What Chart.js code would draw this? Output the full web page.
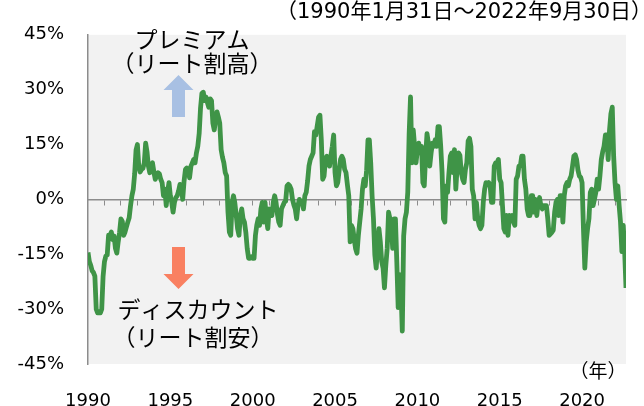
<!DOCTYPE html>
<html>
<head>
<meta charset="utf-8">
<script src="https://cdn.jsdelivr.net/npm/chart.js@4"></script>
<style>
  body { margin: 0; background: #fff; }
  canvas { display: block; }
</style>
</head>
<body>
<canvas id="chart" width="644" height="406"></canvas>
<script>
// monthly premium / discount of J-REIT prices vs NAV, Jan 1990 .. Sep 2022 (%)
const startYear = 1990;
const premium = [
  -14.5, -17, -18, -19.5, -20, -21, -30, -31, -31, -31, -30, -21,        // 1990
  -17, -15.5, -15.2, -9.8, -10, -8.9, -11, -10, -13.4, -14.7, -11.6, -9, // 1991
  -5.3, -6, -9.8, -8.9, -7.5, -6.2, -5, -1.7, 1, 2.8, 7, 13.5,           // 1992
  15, 9, 7.5, 8.2, 8.5, 10, 15.4, 13, 9.1, 7.3, 9, 10,                   // 1993
  7.5, 5.5, 6.4, 7.3, 7, 5.5, 4.6, 1, 2.8, -1.7, 2, 4.6,                 // 1994
  1, -0.8, -3.5, -0.8, 0.5, 1, 2.3, 4.1, 3.7, 0, 5, 8.2,                 // 1995
  8.6, 8.2, 5.9, 9.1, 10, 10.9, 10, 12.7, 14.5, 18, 25, 29,              // 1996
  29.3, 27, 28, 26.5, 25.2, 27.5, 27, 20.8, 19, 22, 23.9, 22.5,          // 1997
  20.8, 13.6, 11.5, 10, 7.3, 6.4, -3.5, -8.9, -9.8, -0.8, 1, -1,         // 1998
  -4.4, -8, -9.8, -4.4, -2.6, -5.3, -6.2, -9, -13.4, -16.1, -16.1, -15.7, // 1999
  -16.1, -16.1, -9.8, -7, -5.3, -7.1, -2.6, -0.8, -6.2, -0.8, -5.3, -8,  // 2000
  -2.6, -3.5, -4.4, -0.8, 1, -0.8, -4, -6.2, -7.1, -2.6, -1.7, -0.8,     // 2001
  -0.5, 3.7, 4.1, 3.7, 2.8, 0, -1.5, -2.6, -5.3, -1.7, 0, -0.5,          // 2002
  -0.8, -2.6, 1, 1.9, 5, 9.1, 10.9, 11.8, 12.7, 18.5, 17.6, 20,          // 2003
  22.5, 23, 16.3, 5.5, 6.4, 10.9, 11.8, 10, 9.1, 12, 14.5, 17.6,         // 2004
  7.3, 3.7, 4.6, 8, 10.9, 11.8, 10.9, 8.2, 7.3, 4, 1, -11.6,             // 2005
  -7.1, -8, -11, -13.5, -14.7, -9.8, -6.2, -2.6, 2.8, 5.5, 3.7, 8,       // 2006
  16.3, 16.3, 10, 1, -5.3, -15.2, -18.8, -12.5, -8, -11.6, -17, -18.8,   // 2007
  -24.2, -18, -13.4, -3.5, -5.3, -7, -13.4, -5.3, -5.3, -17, -29.6, -20.6, // 2008
  -24, -36, -10, -5.3, -3.5, 2, 18, 28, 10, 19, 14.5, 10,                // 2009
  13.6, 15.4, 12.7, 14.5, 4.6, 3.7, 11.8, 18, 15.4, 9.1, 12.7, 15.4,     // 2010
  14.5, 16.3, 14.5, 19.9, 19.9, 14.5, 7.3, -5.3, -6.2, 3.7, 1.9, 7.3,    // 2011
  11.8, 12.7, 7.3, 13.6, 2.8, 9.1, 12.7, 12, 7.3, 5.5, 4.6, 8.2,         // 2012
  10, 16, 16.7, 14.5, 2.8, 1, -5.3, -0.8, -5.3, -7.1, -8, -7.1,          // 2013
  -0.8, 2.8, 4.6, 4, 4.6, 3.7, -0.8, -0.8, 9.1, 10, 10, 10.9,            // 2014
  5.5, 4.6, -1.7, -8, -8.9, -4.4, -9.8, -4.4, -5.3, -4.4, -6.2, -7.1,    // 2015
  5.5, 6.4, 9.1, 9.1, 11.8, 11.8, 5.5, 2.8, -2.6, -4.4, -4.4, 1,         // 2016
  1, -3.5, 0, -4.4, -0.8, 0.5, -1.7, -2.6, -1.7, -1.7, -1.7, -5.3,       // 2017
  -9.8, -9.4, -9, -8.4, -3.5, -0.8, 0, -4.4, 1, 1, -6.2, 1,              // 2018
  3.7, 4.6, 3.7, 5.5, 6.4, 9, 11.8, 12.2, 10.9, 8, 6.4, 6,               // 2019
  4.6, -8, -18.8, -11.6, -8, -5.3, 1.9, 2.8, -1.7, 0, 1.9, 5.5,          // 2020
  2.8, 6.4, 10.9, 13, 14.5, 17.6, 17.6, 10.9, 19, 23.4, 25.2, 11.8,      // 2021
  4.6, 0, 3.7, -1.7, -6.2, -14.3, -7.1, -14, -24.2                        // 2022
];
const yearTicks = [1990, 1995, 2000, 2005, 2010, 2015, 2020];
const pctTicks = [-45, -30, -15, 0, 15, 30, 45];
const periodLabel = '（1990年1月31日～2022年9月30日）';
const upLabel = ['プレミアム', '（リート割高）'];
const downLabel = ['ディスカウント', '（リート割安）'];
const unitLabel = '（年）';

const numFont = '"DejaVu Sans", "Noto Sans CJK JP", sans-serif';
const jpFont = '"Noto Sans CJK JP", sans-serif';
const endYear = startYear + (premium.length - 1) / 12;
const points = premium.map((v, i) => ({ x: startYear + i / 12, y: v }));

const yearMarks = [];
for (let yr = startYear + 1; yr <= Math.floor(endYear); yr++) yearMarks.push(yr);

const plotBg = {
  id: 'plotBg',
  beforeDraw(chart) {
    const { ctx, chartArea: a } = chart;
    ctx.save();
    ctx.fillStyle = '#f2f2f2';
    ctx.fillRect(a.left, a.top, a.right - a.left, a.bottom - a.top);
    ctx.restore();
  }
};

const arrow = (ctx, cx, tail, head, color) => {
  const dir = head < tail ? -1 : 1;
  const neck = head - dir * 15;
  ctx.fillStyle = color;
  ctx.beginPath();
  ctx.moveTo(cx - 6.5, tail);
  ctx.lineTo(cx + 6.5, tail);
  ctx.lineTo(cx + 6.5, neck);
  ctx.lineTo(cx + 15, neck);
  ctx.lineTo(cx, head);
  ctx.lineTo(cx - 15, neck);
  ctx.lineTo(cx - 6.5, neck);
  ctx.closePath();
  ctx.fill();
};

const notes = {
  id: 'notes',
  afterDraw(chart) {
    const { ctx } = chart;
    ctx.save();
    ctx.fillStyle = '#000';
    ctx.textBaseline = 'middle';

    ctx.font = '21px ' + numFont;
    ctx.textAlign = 'right';
    ctx.fillText(periodLabel, 652, 13);

    ctx.textAlign = 'center';
    ctx.font = '23px ' + jpFont;
    ctx.fillText(upLabel[0], 192, 39);
    ctx.fillText(upLabel[1], 192, 63);
    ctx.fillText(downLabel[0], 198, 309);
    ctx.fillText(downLabel[1], 193, 337);

    ctx.font = '19px ' + jpFont;
    ctx.fillText(unitLabel, 598, 371);

    arrow(ctx, 178.5, 117, 75, '#a8c0e3');
    arrow(ctx, 178.5, 247, 289, '#f98061');
    ctx.restore();
  }
};

new Chart(document.getElementById('chart'), {
  type: 'line',
  data: {
    datasets: [{
      data: points,
      borderColor: '#3f9447',
      borderWidth: 4.8,
      borderJoinStyle: 'round',
      pointRadius: 0,
      tension: 0,
      fill: false,
      xAxisID: 'x',
      yAxisID: 'y'
    }]
  },
  options: {
    responsive: false,
    animation: false,
    devicePixelRatio: 1,
    layout: { padding: { top: 30, right: 18, left: 0, bottom: 0 } },
    plugins: { legend: { display: false }, tooltip: { enabled: false } },
    scales: {
      x: {
        type: 'linear',
        position: 'bottom',
        min: startYear,
        max: endYear,
        afterBuildTicks: s => { s.ticks = yearTicks.map(v => ({ value: v })); },
        afterFit: s => { s.height = 42; },
        grid: { display: false },
        border: { display: false },
        ticks: {
          autoSkip: false,
          maxRotation: 0,
          padding: 19,
          color: '#000',
          font: { family: numFont, size: 18 },
          callback: v => String(v)
        }
      },
      zero: {
        type: 'linear',
        axis: 'x',
        position: { y: 0 },
        min: startYear,
        max: endYear,
        afterBuildTicks: s => { s.ticks = yearMarks.map(v => ({ value: v })); },
        grid: { drawOnChartArea: false, drawTicks: true, tickLength: 5, color: '#8c8c8c', lineWidth: 1 },
        border: { color: '#8c8c8c', width: 1.5 },
        ticks: { autoSkip: false, maxRotation: 0, callback: () => '' }
      },
      y: {
        type: 'linear',
        min: -45,
        max: 45,
        afterBuildTicks: s => { s.ticks = pctTicks.map(v => ({ value: v })); },
        afterFit: s => { s.width = 88; },
        grid: { drawOnChartArea: false, drawTicks: false },
        border: { color: '#8c8c8c', width: 1.5 },
        ticks: {
          padding: 24,
          color: '#000',
          font: { family: numFont, size: 18 },
          callback: v => v + '%'
        }
      }
    }
  },
  plugins: [plotBg, notes]
});
</script>
</body>
</html>
